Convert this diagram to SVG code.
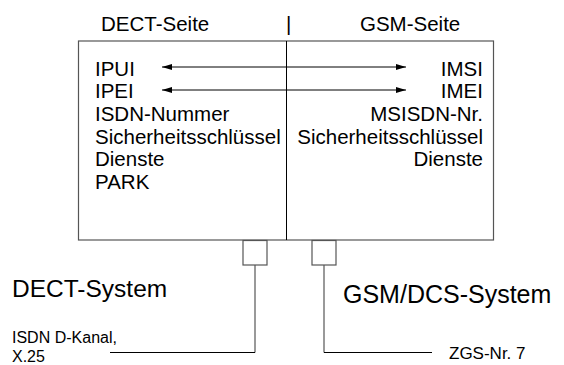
<svg xmlns="http://www.w3.org/2000/svg" width="564" height="365" viewBox="0 0 564 365">
  <style>
    text { font-family: "Liberation Sans", Arial, sans-serif; fill: #000; }
    .hdr { font-size: 20.5px; }
    .item { font-size: 20.5px; }
    .sys { font-size: 24.5px; }
    .note { font-size: 16px; }
    .frame { fill: #fff; stroke: #555; stroke-width: 1.2; }
    .wire { fill: none; stroke: #555; stroke-width: 1.2; }
    .link { fill: none; stroke: #000; stroke-width: 1; }
  </style>
  <defs>
    <marker id="tip" viewBox="0 0 10 6" refX="10" refY="3" markerWidth="10" markerHeight="6" markerUnits="userSpaceOnUse" orient="auto-start-reverse">
      <path d="M0,0 L10,3 L0,6 Z" fill="#000"/>
    </marker>
  </defs>

  <rect width="564" height="365" fill="#fff"/>

  <!-- column headings -->
  <g id="headings">
    <text class="hdr" x="101" y="31">DECT-Seite</text>
    <text class="hdr" x="286" y="31">|</text>
    <text class="hdr" x="360" y="31">GSM-Seite</text>
  </g>

  <!-- shared identity box -->
  <g id="identity-box">
    <rect class="frame" x="78.5" y="41" width="415" height="199"/>
    <line x1="286.5" y1="41" x2="286.5" y2="240" stroke="#000" stroke-width="1"/>
  </g>

  <g id="dect-side">
    <text class="item" x="95" y="75.5">IPUI</text>
    <text class="item" x="95" y="98">IPEI</text>
    <text class="item" x="95" y="121">ISDN-Nummer</text>
    <text class="item" x="95" y="143.5">Sicherheitsschlüssel</text>
    <text class="item" x="95" y="166">Dienste</text>
    <text class="item" x="95" y="188.5">PARK</text>
  </g>

  <g id="gsm-side" text-anchor="end">
    <text class="item" x="483" y="75.5">IMSI</text>
    <text class="item" x="483" y="98">IMEI</text>
    <text class="item" x="483" y="121">MSISDN-Nr.</text>
    <text class="item" x="483" y="143.5">Sicherheitsschlüssel</text>
    <text class="item" x="483" y="166">Dienste</text>
  </g>

  <!-- interface ports under the box -->
  <g id="port-dect">
    <rect class="frame" x="243" y="240.5" width="24" height="24.5"/>
  </g>
  <g id="port-gsm">
    <rect class="frame" x="312" y="240.5" width="24" height="24.5"/>
  </g>

  <g id="dect-system">
    <text class="sys" x="12" y="297">DECT-System</text>
    <text class="note" x="12" y="342.5">ISDN D-Kanal,</text>
    <text class="note" x="12" y="361.5">X.25</text>
  </g>

  <g id="gsm-system">
    <text class="sys" x="343" y="302.5" style="font-size:25px">GSM/DCS-System</text>
    <text class="note" x="449" y="359" style="font-size:17px">ZGS-Nr. 7</text>
  </g>

  <!-- connectors -->
  <g id="connectors">
    <line class="link" x1="162" y1="67" x2="406" y2="67" marker-start="url(#tip)" marker-end="url(#tip)"/>
    <line class="link" x1="162" y1="90" x2="406" y2="90" marker-start="url(#tip)" marker-end="url(#tip)"/>
    <path class="wire" d="M255,265 V352.5"/>
    <path class="link" d="M110,352.5 H255"/>
    <path class="wire" d="M324,265 V352.5"/>
    <path class="link" d="M324,352.5 H432"/>
  </g>
</svg>
